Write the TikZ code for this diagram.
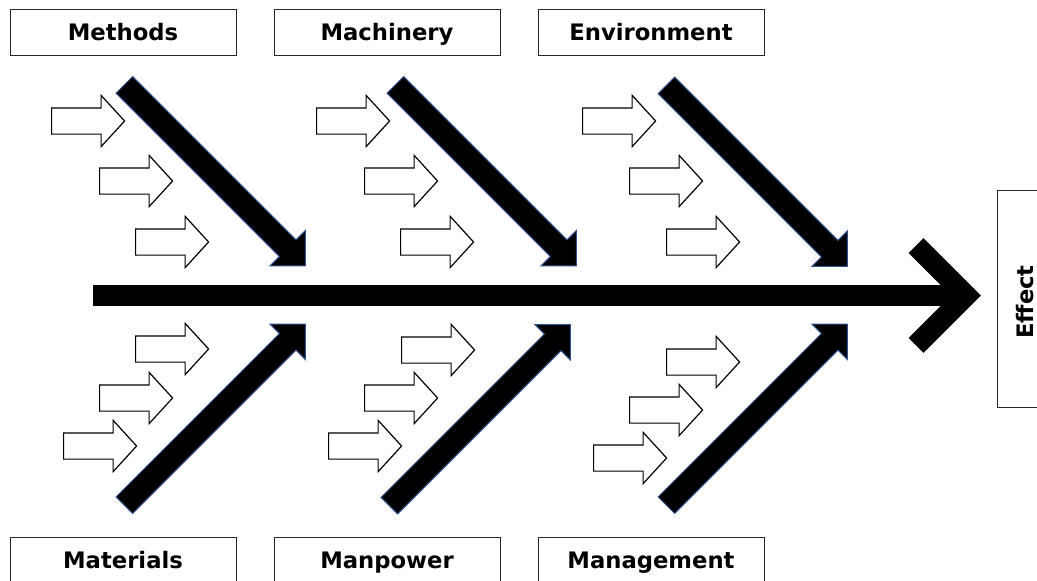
\documentclass[tikz,border=0pt]{standalone}
\usepackage{fontspec}
\setsansfont{DejaVu Sans}
\usetikzlibrary{shapes.arrows}
\definecolor{arrowblue}{RGB}{47,82,143}
\tikzset{
  labeltext/.style={font=\fontsize{22.7}{27}\selectfont\sffamily\bfseries,
    text height=16.5pt, text depth=0pt},
  labelbox/.style={labeltext, draw=black!85, line width=1, minimum width=226, minimum height=46,
    inner sep=0},
  bone/.style={single arrow, draw=arrowblue, fill=black, line width=1, inner xsep=0, inner ysep=11.2,
    minimum height=256, minimum width=49, single arrow head extend=13.3,
    single arrow tip angle=90, anchor=tail},
  cause/.style={single arrow, draw=black, fill=white, line width=1.2, inner xsep=0, inner ysep=12.5,
    minimum height=73, minimum width=50, single arrow head extend=12.5,
    single arrow tip angle=95, anchor=tail},
  spine/.style={line width=21}
}
\begin{document}
\begin{tikzpicture}[x=1pt,y=-1pt]
  \useasboundingbox (0,0) rectangle (1037,581);
  \clip (0,0) rectangle (1037,581);
  % category boxes, top row then bottom row
  \node[labelbox] (methods) at (123,32) {Methods};
  \node[labelbox] (machinery) at (387,32) {Machinery};
  \node[labelbox] (environment) at (651,32) {Environment};
  \node[labelbox] (materials) at (123,560) {Materials};
  \node[labelbox] (manpower) at (387,560) {Manpower};
  \node[labelbox] (management) at (651,560) {Management};
  \node[draw=black!85, line width=1, minimum width=56, minimum height=217, inner sep=0] (effectbox) at (1025,298.5) {};
  \node[labeltext, rotate=90, inner sep=0] (effect) at (1025,302) {Effect};
  % the spine and its open head
  \coordinate (spinetail) at (93,295.5);
  \coordinate (spinevertex) at (966,295.5);
  \coordinate (armup) at (916,245.5);
  \coordinate (armdown) at (916,345.5);
  \draw[spine] (spinetail) -- (spinevertex);
  \draw[spine, line join=miter] (armup) -- (spinevertex) -- (armdown);
  % the six bones
  \node[bone, rotate=-45] (methodsbone) at (124,84.5) {};
  \node[bone, rotate=-45] (machinerybone) at (395,84.5) {};
  \node[bone, rotate=-45] (environmentbone) at (666,85) {};
  \node[bone, rotate=45] (materialsbone) at (124,505.5) {};
  \node[bone, rotate=45] (manpowerbone) at (389,506) {};
  \node[bone, rotate=45] (managementbone) at (666,505.5) {};
  % small cause arrows
  \node[cause] (methodsa) at (51,121) {};
  \node[cause] (methodsb) at (99,181) {};
  \node[cause] (methodsc) at (135,242) {};
  \node[cause] (machinerya) at (316,121) {};
  \node[cause] (machineryb) at (364,181) {};
  \node[cause] (machineryc) at (400,242) {};
  \node[cause] (environmenta) at (582,121) {};
  \node[cause] (environmentb) at (629,181) {};
  \node[cause] (environmentc) at (666,242) {};
  \node[cause] (materialsa) at (135,349) {};
  \node[cause] (materialsb) at (99,398) {};
  \node[cause] (materialsc) at (63,446) {};
  \node[cause] (manpowera) at (401,350) {};
  \node[cause] (manpowerb) at (364,398) {};
  \node[cause] (manpowerc) at (328,446) {};
  \node[cause] (managementa) at (666,362) {};
  \node[cause] (managementb) at (629,410) {};
  \node[cause] (managementc) at (593,458) {};
\end{tikzpicture}
\end{document}
